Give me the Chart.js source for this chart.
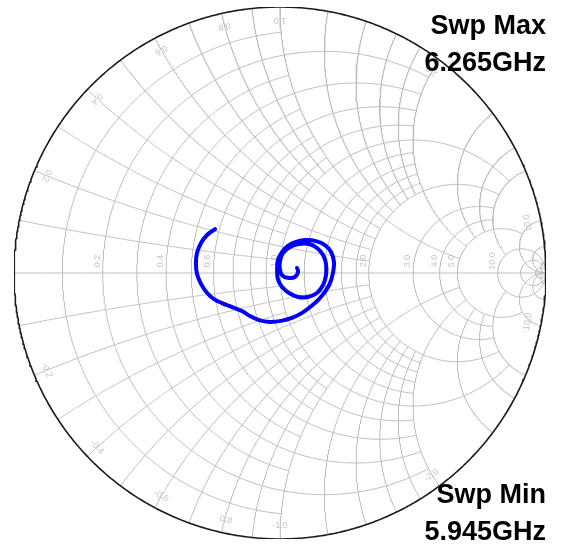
<!DOCTYPE html>
<html lang="en">
<head>
    <meta charset="UTF-8">
    <title>Smith chart</title>
    <style>
        body { margin: 0; background: #fff; }
        #wrap { position: relative; width: 565px; height: 546px; }
    </style>
</head>
<body>
<div id="wrap"><canvas id="myChart" width="565" height="546"></canvas></div>

<script src="https://cdn.jsdelivr.net/npm/chart.js"></script>
<script>
    var gammaRe = [-0.244, -0.274, -0.297, -0.312, -0.316, -0.312, -0.297, -0.274, -0.248, -0.218,
                   -0.180, -0.143, -0.113, -0.079, -0.038, 0.004, 0.045, 0.083, 0.113, 0.143,
                   0.169, 0.188, 0.199, 0.203, 0.192, 0.169, 0.135, 0.098, 0.060, 0.030,
                   0.008, -0.008, -0.011, -0.008, 0.008, 0.034, 0.068, 0.105, 0.139, 0.162,
                   0.173, 0.173, 0.162, 0.139, 0.109, 0.071, 0.038, 0.011, 0.000, 0.000,
                   0.011, 0.034, 0.056, 0.068, 0.064];
    var gammaIm = [0.165, 0.143, 0.113, 0.075, 0.038, -0.004, -0.041, -0.075, -0.098, -0.113,
                   -0.128, -0.143, -0.162, -0.177, -0.184, -0.180, -0.169, -0.150, -0.128, -0.102,
                   -0.071, -0.038, 0.000, 0.041, 0.079, 0.105, 0.120, 0.124, 0.117, 0.102,
                   0.079, 0.049, 0.015, -0.023, -0.053, -0.075, -0.090, -0.090, -0.075, -0.045,
                   -0.008, 0.034, 0.068, 0.094, 0.109, 0.109, 0.098, 0.075, 0.045, 0.011,
                   -0.011, -0.019, -0.015, 0.004, 0.019];

    var sweepMin = "5.945GHz";
    var sweepMax = "6.265GHz";

    // grid: constant resistance circles and how far (|x|) each one is drawn
    var resistances   = [0.1, 0.2, 0.3, 0.4, 0.5, 0.6, 0.7, 0.8, 0.9, 1.0, 1.2, 1.4, 1.6, 1.8, 2.0, 3, 4, 5, 10, 20, 50];
    var resistanceTo  = [1, 2, 1, 2, 1, 2, 1, 2, 1, 5, 2, 2, 2, 2, 5, 5, 5, 10, Infinity, Infinity, Infinity];
    // constant reactance arcs (mirrored for negative) and how far (r) each one is drawn
    var reactances    = [0.1, 0.2, 0.3, 0.4, 0.5, 0.6, 0.7, 0.8, 0.9, 1.0, 1.2, 1.4, 1.6, 1.8, 2.0, 3, 4, 5, 10, 20, 50];
    var reactanceTo   = [1, 2, 1, 2, 1, 2, 1, 2, 1, 5, 2, 2, 2, 2, 5, 5, 5, 10, Infinity, Infinity, Infinity];

    var resistanceLabels = [0.2, 0.4, 0.6, 1.0, 2.0, 3.0, 4.0, 5.0, 10.0];
    var reactanceLabels  = [0.2, 0.4, 0.6, 0.8, 1.0, 2.0, 10.0, -0.2, -0.4, -0.6, -0.8, -1.0, -2.0, -10.0];

    var gridColor = '#bdbdbd';

    function toGamma(r, x) {
        var den = (r + 1) * (r + 1) + x * x;
        return { x: (r * r - 1 + x * x) / den, y: 2 * x / den };
    }

    function rCircle(r, lim, n) {
        var a = Math.atan(lim) * 0.99999, pts = [];
        for (var i = 0; i <= n; i++) {
            var u = -a + 2 * a * i / n;
            pts.push(toGamma(r, Math.tan(u)));
        }
        return pts;
    }

    function xArc(x, lim, n) {
        var a = Math.atan(lim) * 0.99999, pts = [];
        for (var i = 0; i <= n; i++) {
            pts.push(toGamma(Math.tan(a * i / n), x));
        }
        return pts;
    }

    function lineSet(pts, color, width, order) {
        return {
            data: pts, showLine: true, pointRadius: 0, borderColor: color,
            borderWidth: width, fill: false, tension: 0, order: order
        };
    }

    var datasets = [];
    // the sweep on top
    var trace = [];
    for (var i = 0; i < gammaRe.length; i++) trace.push({ x: gammaRe[i], y: gammaIm[i] });
    datasets.push({
        data: trace, showLine: true, pointRadius: 0, borderColor: '#0000ff',
        borderWidth: 4, fill: false, tension: 0.35, order: 0,
        borderCapStyle: 'round', borderJoinStyle: 'round'
    });
    // outer circle and real axis
    datasets.push(lineSet(rCircle(0, Infinity, 720), '#1a1a1a', 1.6, 1));
    datasets.push(lineSet(xArc(0, Infinity, 200), gridColor, 1, 2));

    for (var i = 0; i < resistances.length; i++) {
        datasets.push(lineSet(rCircle(resistances[i], resistanceTo[i], 400), gridColor, 1, 3));
    }
    for (var i = 0; i < reactances.length; i++) {
        datasets.push(lineSet(xArc(reactances[i], reactanceTo[i], 300), gridColor, 1, 3));
        datasets.push(lineSet(xArc(-reactances[i], reactanceTo[i], 300), gridColor, 1, 3));
    }

    var labelPlugin = {
        id: 'smithLabels',
        beforeDatasetsDraw: function (chart) {
            var ctx = chart.ctx, sx = chart.scales.x, sy = chart.scales.y;
            ctx.save();
            ctx.fillStyle = '#c4c4c4';
            ctx.font = '9px "Liberation Sans", Arial, sans-serif';
            ctx.textAlign = 'center';
            ctx.textBaseline = 'bottom';
            resistanceLabels.forEach(function (r) {
                var g = toGamma(r, 0);
                ctx.save();
                ctx.translate(sx.getPixelForValue(g.x) - 1, sy.getPixelForValue(0) - 12);
                ctx.rotate(-Math.PI / 2);
                ctx.fillText(r.toFixed(1), 0, 0);
                ctx.restore();
            });
            reactanceLabels.forEach(function (x) {
                var g = toGamma(0, x);
                var ang = Math.atan2(g.y, g.x);
                var px = sx.getPixelForValue(g.x * 0.95), py = sy.getPixelForValue(g.y * 0.95);
                ctx.save();
                ctx.translate(px, py);
                ctx.rotate(-ang + Math.PI / 2 * (x > 0 ? 1 : -1) + (x > 0 ? Math.PI : 0));
                ctx.textBaseline = 'middle';
                ctx.fillText(x.toFixed(1), 0, 0);
                ctx.restore();
            });
            ctx.restore();
        },
        afterDraw: function (chart) {
            var ctx = chart.ctx;
            ctx.save();
            ctx.fillStyle = '#000';
            ctx.font = 'bold 27px "Liberation Sans", Arial, sans-serif';
            ctx.textAlign = 'right';
            ctx.textBaseline = 'alphabetic';
            ctx.fillText('Swp Max', 546, 34);
            ctx.fillText(sweepMax, 546, 71);
            ctx.fillText('Swp Min', 546, 503);
            ctx.fillText(sweepMin, 546, 540);
            ctx.restore();
        }
    };

    var ctx = document.getElementById('myChart').getContext('2d');
    var smith = new Chart(ctx, {
        type: 'scatter',
        data: { datasets: datasets },
        options: {
            responsive: false,
            devicePixelRatio: 1,
            animation: false,
            events: [],
            layout: { padding: { left: 14, right: 19, top: 7, bottom: 7 } },
            plugins: { legend: { display: false }, tooltip: { enabled: false } },
            scales: {
                x: { type: 'linear', min: -1, max: 1, display: false },
                y: { type: 'linear', min: -1, max: 1, display: false }
            }
        },
        plugins: [labelPlugin]
    });
</script>
</body>
</html>
